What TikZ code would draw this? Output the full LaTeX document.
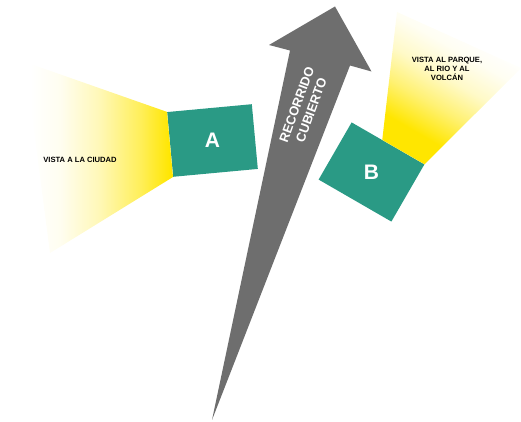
\documentclass[tikz,border=0pt]{standalone}
\usepackage{fontspec}
\setmainfont{Liberation Sans}
\usepackage{tikz}
\usetikzlibrary{calc}
\definecolor{roomteal}{HTML}{2A9A85}
\definecolor{viewyel}{HTML}{FFE600}
\definecolor{pathgray}{HTML}{6E6E6E}
% fades for the two view cones
\pgfdeclarehorizontalshading{citycone}{100bp}{color(0bp)=(white); color(27bp)=(white);
  color(37bp)=(viewyel!6); color(50bp)=(viewyel!28); color(64bp)=(viewyel!65);
  color(74bp)=(viewyel); color(100bp)=(viewyel)}
\pgfdeclareverticalshading{parkcone}{100bp}{color(0bp)=(viewyel); color(31bp)=(viewyel);
  color(42bp)=(viewyel!55); color(52bp)=(viewyel!22); color(62bp)=(viewyel!5);
  color(70bp)=(white); color(100bp)=(white)}

\begin{document}
\begin{tikzpicture}[
    x=1pt, y=1pt,
    room/.style={rectangle, fill=roomteal, inner sep=0pt},
    roomlbl/.style={text=white, font=\bfseries\fontsize{21}{21}\selectfont},
    viewlbl/.style={align=center, font=\bfseries\fontsize{7.6}{9}\selectfont},
  ]
  \useasboundingbox (0,0) rectangle (521,422);

  % covered route arrow
  \fill[pathgray] (212,2) -- (290,371.5) -- (269,377) -- (335,415.5)
    -- (371.5,350.5) -- (350,356.5) -- cycle;
  \node[rotate=70, align=center, text=white,
    font=\bfseries\fontsize{13}{15.5}\selectfont] (route) at (304,314.5) {RECORRIDO\\CUBIERTO};

  % rooms A and B
  \node[room, minimum width=85pt, minimum height=65pt, rotate=5.3] (ra) at (212.5,281.5) {};
  \node[room, minimum width=84pt, minimum height=66pt, rotate=-30] (rb) at (371.5,250) {};
  \node[roomlbl] (la) at (ra.center) {A};
  \node[roomlbl] (lb) at (rb.center) {B};

  % view cones
  \shade[shading=citycone]
    (25,360) -- (ra.north west) -- (ra.south west) -- (50,169) -- cycle;
  \shade[shading=parkcone, shading angle=-30]
    ($(rb.north west)!0.42!(rb.north east)$) -- (397,410) -- (521,354)
    -- (rb.north east) -- cycle;

  \node[viewlbl] (vcity) at (80,262) {VISTA A LA CIUDAD};
  \node[viewlbl] (vpark) at (447,353) {VISTA AL PARQUE,\\AL RIO Y AL\\VOLCÁN};
\end{tikzpicture}
\end{document}
